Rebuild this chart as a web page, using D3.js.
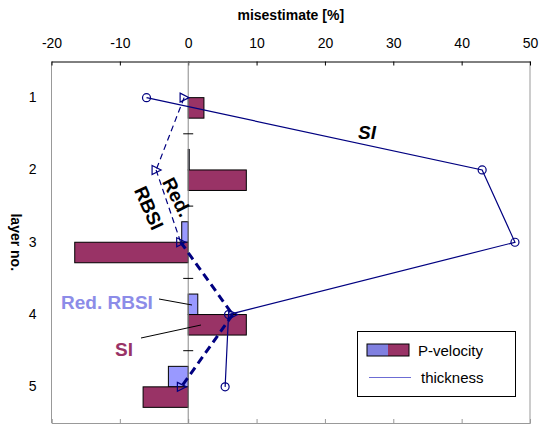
<!DOCTYPE html>
<html lang="en">
<head>
<meta charset="UTF-8">
<title>misestimate by layer</title>
<script src="https://d3js.org/d3.v7.min.js"></script>
<style>
  body { margin: 0; background: #fff; }
  svg { font-family: "Liberation Sans", Arial, sans-serif; }
</style>
</head>
<body>
<script>
// values
const layers = ["1", "2", "3", "4", "5"];
const velRBSI = [0, 0.15, -0.95, 1.4, -2.9];     // P-velocity, Red. RBSI
const velSI = [2.3, 8.5, -16.6, 8.5, -6.6];       // P-velocity, SI
const thickSI = [-6.1, 43.0, 47.8, 5.9, 5.4];     // thickness, SI
const thickRBSI = [-0.6, -4.7, -1.1, 6.5, -1.0];  // thickness, Red. RBSI
const xTicks = [-20, -10, 0, 10, 20, 30, 40, 50];

const w = 539, h = 425;
const pLeft = 51.5, pRight = 530, pTop = 61.5, pBottom = 423;
const maroon = "#993366", lilac = "#9999ff", navy = "#000080";

const svg = d3.select("body").append("svg")
  .attr("width", w)
  .attr("height", h);

const x = d3.scaleLinear().domain([-20, 50]).range([pLeft, pRight]);
const y = d3.scaleBand().domain(layers).range([pTop, pBottom]);
const yc = l => y(l) + y.bandwidth() / 2;
const sub = d3.scaleBand().domain(["RBSI", "SI"]).range([-20.5, 20.5]);

// plot frame (grey sides + bottom)
svg.append("line").attr("x1", pLeft).attr("x2", pLeft).attr("y1", pTop).attr("y2", pBottom).attr("stroke", "#999");
svg.append("line").attr("x1", pRight).attr("x2", pRight).attr("y1", pTop).attr("y2", pBottom).attr("stroke", "#999");

const xBottom = svg.append("g")
  .attr("transform", "translate(0," + pBottom + ")")
  .call(d3.axisBottom(x).tickValues(xTicks).tickSize(-4).tickFormat(""));
xBottom.selectAll("path,line").attr("stroke", "#999");

// top axis
const xTop = svg.append("g")
  .attr("transform", "translate(0," + pTop + ")")
  .call(d3.axisTop(x).tickValues(xTicks).tickSizeInner(-4).tickSizeOuter(0)
    .tickPadding(14).tickFormat(d => String(d)));
xTop.selectAll("path,line").attr("stroke", "#000");
xTop.selectAll("text").attr("font-size", 14).attr("fill", "#000");
xTop.attr("font-family", null);

svg.append("text")
  .attr("x", (pLeft + pRight) / 2).attr("y", 20)
  .attr("text-anchor", "middle")
  .attr("font-size", 14).attr("font-weight", "bold")
  .text("misestimate [%]");

// layer labels
const yAxis = svg.append("g")
  .attr("transform", "translate(" + pLeft + ",0)")
  .call(d3.axisLeft(y).tickSize(0).tickPadding(15));
yAxis.select("path").remove();
yAxis.selectAll("text").attr("font-size", 14).attr("fill", "#000");
yAxis.attr("font-family", null);

svg.append("text")
  .attr("transform", "translate(11," + ((pTop + pBottom) / 2) + ") rotate(90)")
  .attr("text-anchor", "middle")
  .attr("font-size", 14).attr("font-weight", "bold")
  .text("layer no.");

// bars
const bars = [];
layers.forEach((l, i) => {
  bars.push({ layer: l, s: "RBSI", v: velRBSI[i] });
  bars.push({ layer: l, s: "SI", v: velSI[i] });
});

svg.selectAll("rect.bar")
  .data(bars.filter(d => d.v !== 0))
  .enter()
  .append("rect")
  .attr("class", "bar")
  .attr("x", d => x(Math.min(0, d.v)))
  .attr("width", d => Math.abs(x(d.v) - x(0)))
  .attr("y", d => yc(d.layer) + sub(d.s))
  .attr("height", sub.bandwidth())
  .attr("fill", d => d.s === "SI" ? maroon : lilac)
  .attr("stroke", "#000")
  .attr("stroke-width", 1);

// zero axis with cross ticks between layers
svg.append("line")
  .attr("x1", x(0)).attr("x2", x(0)).attr("y1", pTop).attr("y2", pBottom)
  .attr("stroke", "#888");
svg.selectAll("line.ytick")
  .data(layers.slice(1))
  .enter()
  .append("line")
  .attr("class", "ytick")
  .attr("x1", x(0) - 5).attr("x2", x(0) + 5)
  .attr("y1", d => y(d)).attr("y2", d => y(d))
  .attr("stroke", "#000");

// thickness lines
const siPts = layers.map((l, i) => ({ layer: l, v: thickSI[i] }));
const rbPts = layers.map((l, i) => ({ layer: l, v: thickRBSI[i] }));
const line = d3.line().x(d => x(d.v)).y(d => yc(d.layer));

svg.append("path")
  .attr("d", line(siPts))
  .attr("fill", "none")
  .attr("stroke", navy)
  .attr("stroke-width", 1.2);

d3.pairs(rbPts).forEach((p, i) => {
  svg.append("path")
    .attr("d", line(p))
    .attr("fill", "none")
    .attr("stroke", navy)
    .attr("stroke-width", i < 2 ? 1.2 : 3)
    .attr("stroke-dasharray", i < 2 ? "6,4" : "8,5");
});

svg.selectAll("circle.si")
  .data(siPts)
  .enter()
  .append("circle")
  .attr("class", "si")
  .attr("cx", d => x(d.v))
  .attr("cy", d => yc(d.layer))
  .attr("r", 4)
  .attr("fill", "none")
  .attr("stroke", navy)
  .attr("stroke-width", 1.2);

svg.selectAll("path.rb")
  .data(rbPts)
  .enter()
  .append("path")
  .attr("class", "rb")
  .attr("d", "M-4,-4.5L5,0L-4,4.5Z")
  .attr("transform", d => "translate(" + x(d.v) + "," + yc(d.layer) + ")")
  .attr("fill", "none")
  .attr("stroke", navy)
  .attr("stroke-width", 1.2);

// annotations
svg.append("text")
  .attr("x", 358).attr("y", 139)
  .attr("font-size", 19).attr("font-weight", "bold").attr("font-style", "italic")
  .text("SI");

svg.append("text")
  .attr("transform", "translate(177,197) rotate(63)")
  .attr("text-anchor", "middle").attr("dy", "0.35em")
  .attr("font-size", 19).attr("font-weight", "bold")
  .text("Red.");
svg.append("text")
  .attr("transform", "translate(149,208) rotate(66)")
  .attr("text-anchor", "middle").attr("dy", "0.35em")
  .attr("font-size", 19).attr("font-weight", "bold")
  .text("RBSI");

svg.append("text")
  .attr("x", 61).attr("y", 309)
  .attr("font-size", 19).attr("font-weight", "bold")
  .attr("fill", "#8c8ce8")
  .text("Red. RBSI");
svg.append("line")
  .attr("x1", 159).attr("y1", 299).attr("x2", 192).attr("y2", 305)
  .attr("stroke", "#000");

svg.append("text")
  .attr("x", 115).attr("y", 356)
  .attr("font-size", 19).attr("font-weight", "bold")
  .attr("fill", maroon)
  .text("SI");
svg.append("line")
  .attr("x1", 141).attr("y1", 338).attr("x2", 201).attr("y2", 325)
  .attr("stroke", "#000");

// legend
const lg = svg.append("g");
lg.append("rect")
  .attr("x", 357.5).attr("y", 331.5).attr("width", 158).attr("height", 65)
  .attr("fill", "#fff").attr("stroke", "#000");
lg.append("rect")
  .attr("x", 367).attr("y", 344).attr("width", 21).attr("height", 12)
  .attr("fill", "#8080e0");
lg.append("rect")
  .attr("x", 388).attr("y", 344).attr("width", 21).attr("height", 12)
  .attr("fill", maroon);
lg.append("rect")
  .attr("x", 367).attr("y", 344).attr("width", 42).attr("height", 12)
  .attr("fill", "none").attr("stroke", "#000");
lg.append("text")
  .attr("x", 418).attr("y", 356)
  .attr("font-size", 15)
  .text("P-velocity");
lg.append("line")
  .attr("x1", 369).attr("x2", 411).attr("y1", 377.5).attr("y2", 377.5)
  .attr("stroke", "#6c6cd4").attr("stroke-width", 1.2);
lg.append("text")
  .attr("x", 421).attr("y", 383)
  .attr("font-size", 15)
  .text("thickness");
</script>
</body>
</html>
